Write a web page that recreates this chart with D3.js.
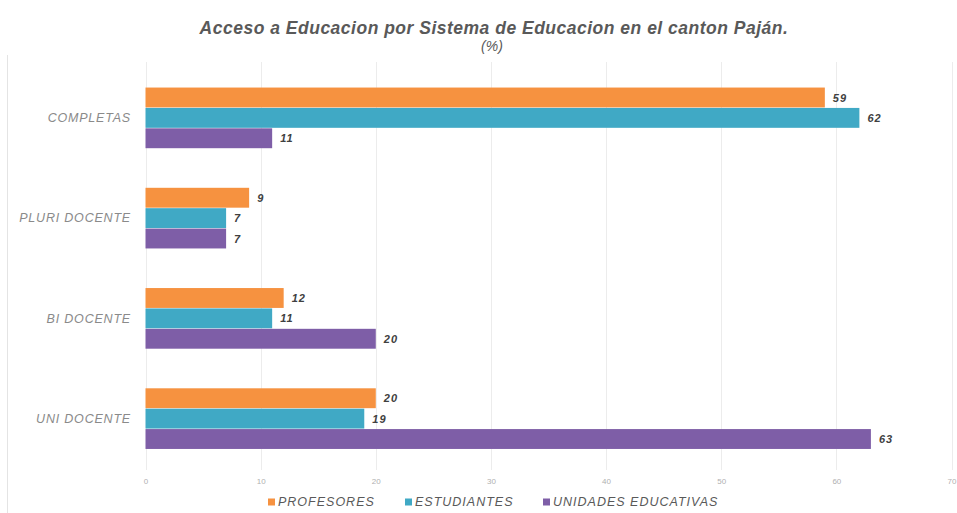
<!DOCTYPE html>
<html><head><meta charset="utf-8">
<script src="https://cdn.jsdelivr.net/npm/d3@7"></script>
<style>body{margin:0;background:#fff}svg{display:block}</style>
</head><body>
<script>
const categories = ["COMPLETAS", "PLURI DOCENTE", "BI DOCENTE", "UNI DOCENTE"];
const seriesNames = ["PROFESORES", "ESTUDIANTES", "UNIDADES EDUCATIVAS"];
const profesores = [59, 9, 12, 20];
const estudiantes = [62, 7, 11, 19];
const unidades = [11, 7, 20, 63];
const tickValues = [0, 10, 20, 30, 40, 50, 60, 70];
const colors = ["#F69240", "#40A9C5", "#7E5EA7"];

const W = 957, H = 513;
const svg = d3.select("body").append("svg").attr("width", W).attr("height", H);
const font = "'Liberation Sans', Arial, sans-serif";

const series = [profesores, estudiantes, unidades];
const x = d3.scaleLinear().domain([0, 70]).range([145.5, 951.5]);
const y = d3.scaleBand().domain(categories).range([68, 469]).paddingInner(0.39).paddingOuter(0.195);
const y1 = d3.scaleBand().domain(seriesNames).range([0, y.bandwidth()]);

// chart border
svg.append("line").attr("x1", 7.5).attr("x2", 7.5).attr("y1", 55).attr("y2", 513).attr("stroke", "#e4e4e4");

// gridlines
svg.append("g").selectAll("line").data(tickValues).join("line")
  .attr("x1", d => Math.round(x(d)) + 0.5).attr("x2", d => Math.round(x(d)) + 0.5)
  .attr("y1", 62).attr("y2", 470)
  .attr("stroke", "#ececec");

// x axis tick labels
const xAxis = d3.axisBottom(x).tickValues(tickValues).tickSize(0).tickPadding(0);
const gx = svg.append("g").attr("transform", "translate(0,478)").call(xAxis);
gx.select(".domain").remove();
gx.selectAll("text").attr("font-family", font).attr("font-size", 8).attr("fill", "#b0b0b0");

// y axis labels
const yAxis = d3.axisLeft(y).tickSize(0).tickPadding(0);
const gy = svg.append("g").attr("transform", "translate(131,0)").call(yAxis);
gy.select(".domain").remove();
gy.selectAll("text").attr("font-family", font).attr("font-size", 12.5).attr("font-style", "italic")
  .attr("letter-spacing", 0.8).attr("fill", "#8a8a8a");

// bars
const groups = svg.append("g").selectAll("g").data(categories).join("g")
  .attr("transform", c => `translate(0,${y(c)})`);
seriesNames.forEach((s, si) => {
  groups.append("rect")
    .attr("x", x(0))
    .attr("y", y1(s))
    .attr("width", (c, ci) => x(series[si][ci]) - x(0))
    .attr("height", y1.bandwidth() - 0.5)
    .attr("fill", colors[si]);
  groups.append("text")
    .attr("x", (c, ci) => x(series[si][ci]) + 8)
    .attr("y", y1(s) + y1.bandwidth() / 2)
    .attr("dy", "0.35em")
    .attr("font-family", font).attr("font-size", 11).attr("font-weight", "bold").attr("font-style", "italic")
    .attr("letter-spacing", 1)
    .attr("fill", "#404040")
    .text((c, ci) => series[si][ci]);
});

// title
svg.append("text").attr("x", 494).attr("y", 34).attr("text-anchor", "middle")
  .attr("font-family", font).attr("font-size", 17.5).attr("font-weight", "bold").attr("font-style", "italic")
  .attr("letter-spacing", 0.5)
  .attr("fill", "#595959").text("Acceso a Educacion por Sistema de Educacion en el canton Paján.");
svg.append("text").attr("x", 492).attr("y", 51).attr("text-anchor", "middle")
  .attr("font-family", font).attr("font-size", 14).attr("font-style", "italic")
  .attr("fill", "#595959").text("(%)");

// legend
const legX = [268, 405, 543];
const leg = svg.append("g").selectAll("g").data(seriesNames).join("g")
  .attr("transform", (d, i) => `translate(${legX[i]},502)`);
leg.append("rect").attr("x", 0).attr("y", -3.5).attr("width", 7).attr("height", 7)
  .attr("fill", (d, i) => colors[i]);
leg.append("text").attr("x", 10).attr("y", 0).attr("dy", "0.35em")
  .attr("font-family", font).attr("font-size", 12.5).attr("font-style", "italic")
  .attr("letter-spacing", 1)
  .attr("fill", "#595959").text(d => d);
</script>
</body></html>
